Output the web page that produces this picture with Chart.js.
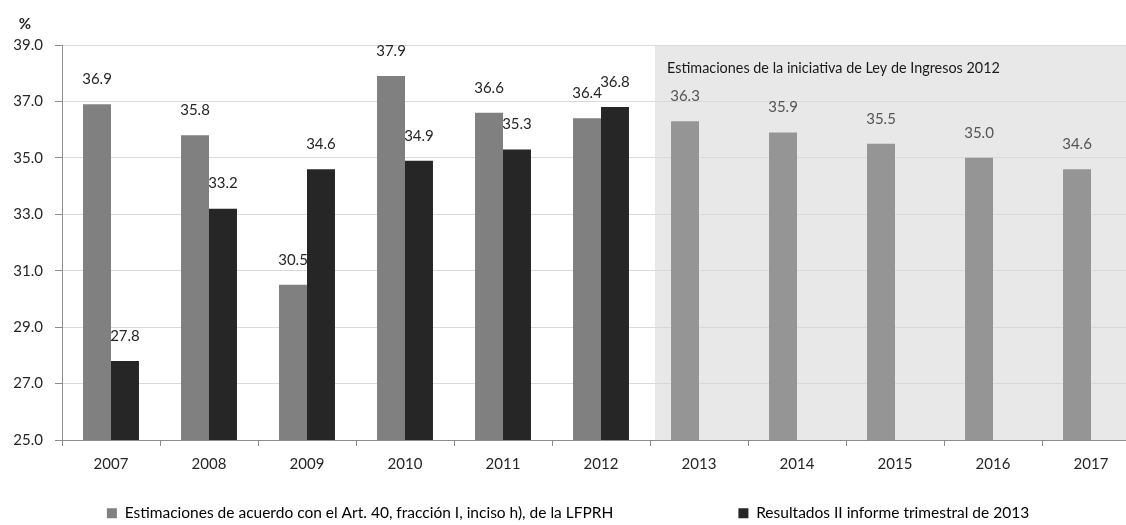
<!DOCTYPE html>
<html>
<head>
<meta charset="utf-8">
<script src="https://cdn.jsdelivr.net/npm/chart.js@4.4.1/dist/chart.umd.min.js"></script>
<style>
    html, body { margin: 0; padding: 0; background: #fff; overflow: hidden; }
    #wrap { position: relative; width: 1140px; height: 531px; }
</style>
</head>
<body>
<div id="wrap"><canvas id="chart"></canvas></div>
<script>
const years = ['2007', '2008', '2009', '2010', '2011', '2012', '2013', '2014', '2015', '2016', '2017'];
const estimaciones = [36.9, 35.8, 30.5, 37.9, 36.6, 36.4, 36.3, 35.9, 35.5, 35.0, 34.6];
const resultados = [27.8, 33.2, 34.6, 34.9, 35.3, 36.8, null, null, null, null, null];
const yTicks = [25, 27, 29, 31, 33, 35, 37, 39];
const shadeFrom = '2013';
const shadeText = 'Estimaciones de la iniciativa de Ley de Ingresos 2012';

const FONT = "Lato, 'Open Sans', sans-serif";
const shadeIndex = years.indexOf(shadeFrom);

// gray bars are lighter for the projected years
const estColors = years.map((y, i) => i >= shadeIndex ? '#959595' : '#808080');

const shadePlugin = {
    id: 'shade',
    beforeDraw(chart) {
        const ctx = chart.ctx;
        const area = chart.chartArea;
        const x = chart.scales.x;
        const left = (x.getPixelForValue(shadeIndex - 1) + x.getPixelForValue(shadeIndex)) / 2 + 5;
        ctx.save();
        ctx.fillStyle = '#e8e8e8';
        ctx.fillRect(left, area.top, area.right - left, area.bottom - area.top);
        ctx.restore();
    },
    afterDatasetsDraw(chart) {
        const ctx = chart.ctx;
        const area = chart.chartArea;
        const x = chart.scales.x;
        const left = (x.getPixelForValue(shadeIndex - 1) + x.getPixelForValue(shadeIndex)) / 2 + 5;
        ctx.save();
        ctx.font = '14.4px ' + FONT;
        ctx.fillStyle = '#1a1a1a';
        ctx.textBaseline = 'middle';
        ctx.textAlign = 'left';
        ctx.fillText(shadeText, left + 12, area.top + 23);

        // "%" over the y axis
        ctx.font = 'bold 15px ' + FONT;
        ctx.textAlign = 'center';
        ctx.fillStyle = '#262626';
        ctx.fillText('%', 25, 24);
        ctx.restore();
    }
};

const valueLabels = {
    id: 'valueLabels',
    afterDatasetsDraw(chart) {
        const ctx = chart.ctx;
        ctx.save();
        ctx.font = '15px ' + FONT;
        ctx.textAlign = 'center';
        ctx.textBaseline = 'middle';
        chart.data.datasets.forEach((ds, di) => {
            const meta = chart.getDatasetMeta(di);
            meta.data.forEach((bar, i) => {
                const v = ds.data[i];
                if (v === null) return;
                ctx.fillStyle = i >= shadeIndex ? '#555' : '#262626';
                ctx.fillText(v.toFixed(1), bar.x, bar.y - 25);
            });
        });
        ctx.restore();
    }
};

new Chart(document.getElementById('chart'), {
    type: 'bar',
    data: {
        labels: years,
        datasets: [{
            label: 'Estimaciones de acuerdo con el Art. 40, fracción I, inciso h), de la LFPRH',
            data: estimaciones,
            backgroundColor: estColors
        }, {
            label: 'Resultados II informe trimestral de 2013',
            data: resultados,
            backgroundColor: '#262626'
        }]
    },
    options: {
        responsive: true,
        maintainAspectRatio: false,
        animation: false,
        categoryPercentage: 0.571,
        barPercentage: 1,
        layout: { padding: { top: 45, left: 0, right: 0, bottom: 0 } },
        plugins: {
            tooltip: { enabled: false },
            legend: {
                position: 'bottom',
                labels: {
                    font: { family: FONT, size: 15.5 },
                    color: '#262626',
                    boxWidth: 10,
                    boxHeight: 10,
                    padding: 10,
                    generateLabels(chart) {
                        // spacing between the two entries as in the original
                        return chart.data.datasets.map((ds, i) => ({
                            text: ds.label + '\u00a0'.repeat(i === 0 ? 29 : 1),
                            fillStyle: i === 0 ? '#808080' : '#262626',
                            strokeStyle: 'transparent',
                            lineWidth: 0,
                            datasetIndex: i
                        }));
                    }
                }
            }
        },
        scales: {
            x: {
                afterFit(scale) { scale.height = 55.5; },
                grid: {
                    offset: true,
                    drawOnChartArea: false,
                    tickLength: 6,
                    tickColor: '#8c8c8c'
                },
                border: { color: '#8c8c8c' },
                ticks: {
                    font: { family: FONT, size: 15 },
                    color: '#262626',
                    padding: 9
                }
            },
            y: {
                min: 25,
                max: 39,
                afterFit(scale) { scale.width = 62; },
                afterBuildTicks(scale) { scale.ticks = yTicks.map(v => ({ value: v })); },
                grid: {
                    color: '#d9d9d9',
                    tickLength: 7,
                    tickColor: '#8c8c8c'
                },
                border: { color: '#8c8c8c' },
                ticks: {
                    font: { family: FONT, size: 15 },
                    color: '#262626',
                    padding: 12,
                    callback: v => v.toFixed(1)
                }
            }
        }
    },
    plugins: [shadePlugin, valueLabels]
});
</script>
</body>
</html>
